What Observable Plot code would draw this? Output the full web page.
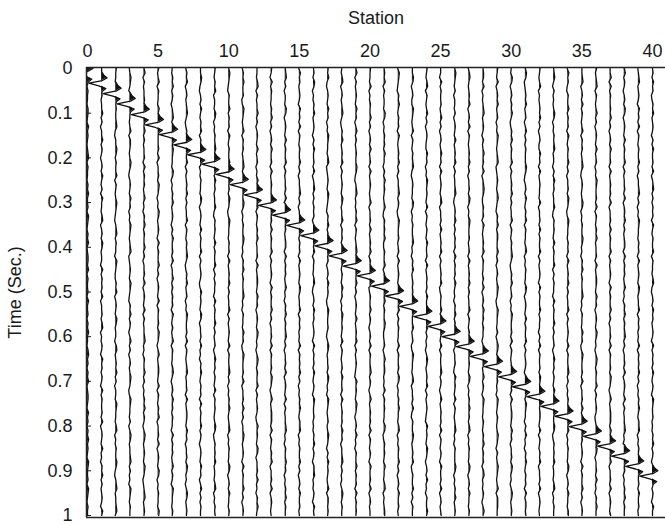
<!DOCTYPE html>
<html><head><meta charset="utf-8">
<script src="https://cdn.jsdelivr.net/npm/d3@7"></script>
<script src="https://cdn.jsdelivr.net/npm/@observablehq/plot@0.6"></script>
<style>body{margin:0;background:#fff}</style>
</head><body><div id="chart"></div>
<script>
// Stations (traces) 0..40
const stations = [0,1,2,3,4,5,6,7,8,9,10,11,12,13,14,15,16,17,18,19,20,21,22,23,24,25,26,27,28,29,30,31,32,33,34,35,36,37,38,39,40];
const xTicks = [0,5,10,15,20,25,30,35,40];
const yTicks = [0,0.1,0.2,0.3,0.4,0.5,0.6,0.7,0.8,0.9,1];
const yTickLabels = ["0","0.1","0.2","0.3","0.4","0.5","0.6","0.7","0.8","0.9","1"];
// Arrival (trough) time of the wavelet on each trace, seconds
const arrivals = [0.006,0.027,0.050,0.073,0.097,0.120,0.142,0.165,0.187,0.208,0.231,0.254,0.277,0.300,0.322,0.345,0.368,0.391,0.413,0.436,0.458,0.481,0.503,0.526,0.549,0.571,0.594,0.616,0.638,0.661,0.684,0.706,0.728,0.750,0.772,0.795,0.817,0.839,0.861,0.884,0.906];
// Wavelet shape: time offset from arrival (s) and amplitude (station units)
const waveletTime = [-0.02,-0.012,-0.006,0.0,0.006,0.012,0.018,0.024,0.03];
const waveletAmp  = [0,0.15,0.38,0.05,-0.9,-0.2,0.3,0.05,0];
// Background noise of each trace, one digit per 0.01 s (4 = zero)
const noise = [
"4546354435 5436454345 6354435464 4536543546 3455463544 5364453546 4435645354 6345543645 3546454365 4453654354 4",
"4536425344 6352446354 2453643526 4435624536 5344263545 3624453562 4354264535 4263544536 2454363425 4635345426 4",
"5443654235 4456324465 3544625434 6543245635 4426543354 6245436534 4256345463 5244365443 5624354465 3245634456 3",
"3465425346 5434625543 4653245436 4524365434 5623454365 4325463542 4635245346 5423654435 2465344563 5342654354 4",
"4625344536 2454635344 5263545346 3425463544 6352445362 4543625344 5634254463 5243546354 2465345436 5423456345 4",
"5346254436 4525364453 6244536542 4365345426 3544635245 4362544536 5424634554 3625435462 4453624543 6524354436 5",
"4354635424 5634354265 4436524354 6345425364 4536244635 3545264353 4625443564 2453645354 4263545346 3542654435 4",
"3546245345 6423546354 4625345463 5344625435 4564235463 4524365445 3625434563 4452634554 3645244536 5342465345 4",
"4465324536 4354625443 5624354436 5245436354 4625345423 6454365244 5363425464 3545263544 6354245436 4524635354 4",
"5435462443 6524354563 4425364534 4632545436 3544625354 4263544635 3452464535 4362545434 6523545463 4435624354 5",
"4654325446 3545264354 4635244536 5423654435 4526345463 5344625345 4362544563 5243546434 5624354436 5245364435 4",
"3546445236 5434625453 4563245434 6524354465 3425463544 5634254436 4523654453 6244536352 4465345426 3544635245 4",
"4435625344 6352454363 4524365445 3625435463 4452634554 3645245436 5342465354 4625345423 6454365244 5363425464 3",
"5426354435 4635245364 4526345453 6244536354 4625345426 3544635244 5362544536 5424634555 3625435462 4453624543 4",
"4563524436 5245436354 4625344536 2454635345 5263545346 3425463545 6352445362 4543625344 5634254464 5243546354 4",
"3645345426 4536254354 4635244563 5243654435 4526345436 5344625453 4362545463 5243546435 5624354463 5245364453 4",
"4536524354 6345425364 4536245635 3545264354 4625443563 2453645345 4263545364 3542654453 4354635425 5634354264 5",
"5463245436 4524365443 5623454365 4325463545 4635245364 5423654453 2465344536 5342654345 3465425364 5434625545 4",
"4356245345 6423546345 4625345436 5344625453 4564235436 4524365454 3625434536 4452634545 3645244563 5342465354 4",
"4625345436 4524635345 4465324563 4354625434 5624354463 5245436345 4625345432 6454365424 5363425446 3545263545 4",
"5443624354 4635245363 4526345434 6244536345 4625345462 3544635424 5362544563 5424634545 3625435426 4453624534 4",
"4546253443 6524354536 4425364543 4632545463 3544625345 4263544653 3452464553 4362545443 6523545436 4435624345 5",
"3654325464 3545264345 4635244563 5423654453 4526345436 5344625354 4362544536 5243546443 5624354463 5245364453 4",
"4465245336 5434625435 4563245443 6524354456 3425463454 5634254463 4523654435 6244536325 4465345462 3544635254 4",
"5435625434 6352454336 4524365454 3625435436 4452634545 3645245463 5342465345 4625345432 6454365424 5363425446 4",
"4426354453 4635245346 4526345435 6244536345 4625345462 3544635424 5362544563 5424634545 3625435426 4453624534 5",
"4654352443 5245436345 4625344563 2454635354 5263545364 3425463554 6352445326 4543625434 5634254446 5243546345 4",
"3564345462 4536254345 4635244536 5243654453 4526345463 5344625435 4362545436 5243546453 5624354436 5245364435 4",
"4553624345 6345425346 4536245653 3545264345 4625443536 2453645354 4263545346 3542654435 4354635452 5634354246 4",
"5436245463 4524365434 5623454356 4325463554 4635245346 5423654435 2465344563 5342654354 3465425346 5434625554 4",
"4365245354 6423546354 4625345463 5344625435 4564235463 4524365445 3625434563 4452634554 3645244536 5342465345 4",
"4652345463 4524635354 4465324536 4354625443 5624354436 5245436354 4625345423 6454365442 5363425464 3545263554 5",
"5434624345 4635245336 4526345443 6244536354 4625345426 3544635442 5362544536 5424634554 3625435462 4453624543 4",
"4564253434 6524354563 4425364534 4632545436 3544625354 4263544635 3452464535 4362545434 6523545463 4435624354 4",
"3645325446 3545264354 4635244536 5423654435 4526345463 5344625345 4362544563 5243546434 5624354436 5245364435 5",
"4456245363 5434625453 4563245434 6524354465 3425463544 5634254436 4523654453 6244536352 4465345426 3544635245 4",
"5345625434 6352454363 4524365445 3625435463 4452634554 3645245436 5342465354 4625345423 6454365244 5363425464 4",
"4462635445 4635245364 4526345453 6244536354 4625345426 3544635244 5362544536 5424634555 3625435462 4453624543 5",
"4635424536 5245436354 4625344536 2454635345 5263545346 3425463545 6352445362 4543625344 5634254464 5243546354 4",
"3456345426 4536254354 4635244563 5243654435 4526345436 5344625453 4362545463 5243546435 5624354463 5245364453 4",
"4536452354 6345425364 4536245635 3545264354 4625443563 2453645345 4263545364 3542654453 4354635425 5634354264 4"
];
const noiseUnit = 0.04;

// Build trace rows
const rows = [];
stations.forEach((k, idx) => {
  const s = noise[idx].replace(/\s/g, "");
  const n = s.length;
  const T = arrivals[idx];
  const lo = T + waveletTime[0], hi = T + waveletTime[waveletTime.length - 1];
  const pts = [];
  for (let i = 0; i < n; i++) {
    const t = i / (n - 1);
    if (t >= lo && t <= hi) continue;
    pts.push({t, a: (+s[i] - 4) * noiseUnit});
  }
  waveletTime.forEach((dt, j) => pts.push({t: T + dt, a: waveletAmp[j]}));
  pts.sort((p, q) => p.t - q.t);
  pts.forEach(p => rows.push({k, t: p.t, x: k + p.a, base: k, pos: k + Math.max(0, p.a)}));
});

const xDomain = [-0.07, 40.92];
const yDomain = [-0.0022, 1.0045];
const font = "'Liberation Sans', Arial, Helvetica, sans-serif";

const chart = Plot.plot({
  width: 665,
  height: 526,
  marginLeft: 86,
  marginRight: 0,
  marginTop: 67,
  marginBottom: 9,
  style: {fontFamily: font, fontSize: "18px", color: "#1a1a1a", background: "#fff"},
  x: {domain: xDomain},
  y: {domain: yDomain, reverse: true},
  marks: [
    Plot.areaX(rows, {y: "t", x1: "base", x2: "pos", z: "k", fill: "#111", curve: "linear", clip: true}),
    Plot.line(rows, {x: "x", y: "t", z: "k", stroke: "#111", strokeWidth: 1.3, curve: "linear", clip: true}),
    Plot.ruleX([xDomain[0]], {stroke: "#222", strokeWidth: 1.5}),
    Plot.ruleY([yDomain[0], yDomain[1]], {stroke: "#222", strokeWidth: 1.5}),
    Plot.axisX(xTicks, {anchor: "top", tickSize: 0, tickPadding: 11, fontSize: 18,
      label: "Station", labelArrow: "none", labelAnchor: "center", labelOffset: 56}),
    Plot.axisY(yTicks, {anchor: "left", tickSize: -5, tickPadding: 19, fontSize: 18,
      tickFormat: d => yTickLabels[yTicks.indexOf(d)],
      label: "Time (Sec.)", labelArrow: "none", labelAnchor: "center", labelOffset: 78})
  ]
});
document.getElementById("chart").appendChild(chart);
</script>
</body></html>
